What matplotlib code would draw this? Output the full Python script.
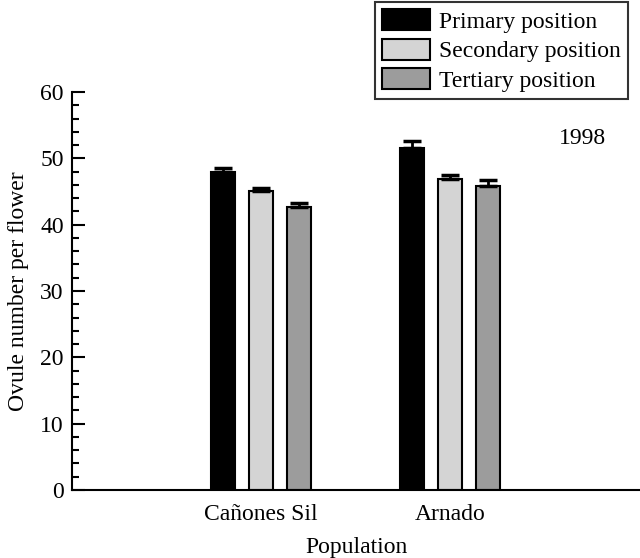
import matplotlib
matplotlib.use("Agg")
import matplotlib.pyplot as plt
import numpy as np
from matplotlib.ticker import MultipleLocator

populations = ["Cañones Sil", "Arnado"]
positions = ["Primary position", "Secondary position", "Tertiary position"]
means = {
    "Primary position": [47.9, 51.6],
    "Secondary position": [45.1, 46.9],
    "Tertiary position": [42.7, 45.8],
}
errors = {
    "Primary position": [0.6, 1.0],
    "Secondary position": [0.5, 0.6],
    "Tertiary position": [0.5, 0.9],
}
colors = ["#000000", "#d4d4d4", "#9c9c9c"]

plt.rcParams["font.family"] = ["Liberation Serif", "DejaVu Serif"]

fig = plt.figure(figsize=(6.4, 5.58), dpi=100)
ax = fig.add_axes([72 / 640, 68 / 558, 568 / 640, 398 / 558])

x = np.arange(len(populations))
step, width = 0.201, 0.127
for i, (pos, c) in enumerate(zip(positions, colors)):
    ax.bar(x + (i - 1) * step, means[pos], width, color=c, edgecolor="black",
           linewidth=1.5, label=pos, zorder=2)
    ax.errorbar(x + (i - 1) * step, means[pos], yerr=[[0, 0], errors[pos]],
                fmt="none", ecolor="black", elinewidth=2, capsize=6.5, capthick=2.5, zorder=3)

ax.set_xlim(-1, 2.005)
ax.set_ylim(0, 60)
ax.set_xticks(x)
ax.set_xticklabels(populations, fontsize=17)
ax.tick_params(axis="x", length=0, pad=10)
ax.yaxis.set_major_locator(MultipleLocator(10))
ax.yaxis.set_minor_locator(MultipleLocator(2))
ax.tick_params(axis="y", which="major", direction="in", length=9, width=1.5, labelsize=17, pad=6)
ax.tick_params(axis="y", which="minor", direction="in", length=5, width=1.5)
for s in ["top", "right"]:
    ax.spines[s].set_visible(False)
for s in ["left", "bottom"]:
    ax.spines[s].set_linewidth(1.5)

ax.set_ylabel("Ovule number per flower", fontsize=17, labelpad=8)
ax.set_xlabel("Population", fontsize=17, labelpad=9)
ax.text(1.70, 53, "1998", fontsize=17, ha="center", va="center")

leg = fig.legend(loc="upper right", bbox_to_anchor=(628 / 640, 1 - 2 / 558),
                 fontsize=17, frameon=True, fancybox=False, edgecolor="black",
                 handlelength=2.05, handleheight=1.0, labelspacing=0.25,
                 borderpad=0.3, handletextpad=0.38, borderaxespad=0)
leg.get_frame().set_linewidth(1.5)

fig.savefig("out.png", dpi=100)
